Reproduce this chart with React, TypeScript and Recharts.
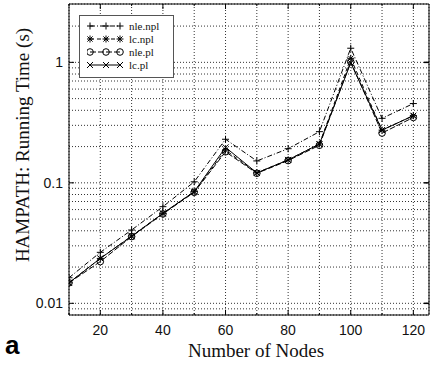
import React from 'react';
import { LineChart, Line, XAxis, YAxis, CartesianGrid, Legend } from 'recharts';

// nodes on the x axis
const nodes = [10, 20, 30, 40, 50, 60, 70, 80, 90, 100, 110, 120];

// running times (s) per variant
const nleNpl = [0.0163, 0.0265, 0.0406, 0.0634, 0.102, 0.23, 0.152, 0.192, 0.266, 1.31, 0.343, 0.455];
const lcNpl = [0.0148, 0.0236, 0.0362, 0.0558, 0.0845, 0.187, 0.121, 0.155, 0.21, 1.08, 0.274, 0.361];
const nlePl = [0.0148, 0.0222, 0.0358, 0.0552, 0.0834, 0.181, 0.12, 0.153, 0.205, 1.01, 0.259, 0.349];
const lcPl = [0.0148, 0.0236, 0.036, 0.0558, 0.0845, 0.197, 0.121, 0.155, 0.21, 0.99, 0.274, 0.361];

const seriesNames = ['nle.npl', 'lc.npl', 'nle.pl', 'lc.pl'];
const seriesKeys = ['nleNpl', 'lcNpl', 'nlePl', 'lcPl'];
const seriesDash = ['5 2 1 2', '4 3', '6 2', undefined];
const seriesMarker = ['plus', 'star', 'circle', 'cross'];

const xTicks = [10, 20, 30, 40, 50, 60, 70, 80, 90, 100, 110, 120];
const yTicks = [
  0.008, 0.009, 0.01, 0.02, 0.03, 0.04, 0.05, 0.06, 0.07, 0.08, 0.09,
  0.1, 0.2, 0.3, 0.4, 0.5, 0.6, 0.7, 0.8, 0.9, 1, 2,
];
const yLabels = [0.01, 0.1, 1];

const data = nodes.map((n, i) => ({
  n,
  nleNpl: nleNpl[i],
  lcNpl: lcNpl[i],
  nlePl: nlePl[i],
  lcPl: lcPl[i],
}));

const W = 430;
const H = 366;
const tickFont = '"Liberation Sans", Arial, sans-serif';
const serif = '"Liberation Serif", "Times New Roman", serif';

const isDecade = (v: number) => yLabels.some((d) => Math.abs(d - v) < 1e-9);

function Marker({ type, cx, cy }: { type: string; cx: number; cy: number }) {
  const s = 3.5;
  if (type === 'plus') {
    return (
      <g stroke="#000" strokeWidth={1}>
        <line x1={cx - s} y1={cy} x2={cx + s} y2={cy} />
        <line x1={cx} y1={cy - s} x2={cx} y2={cy + s} />
      </g>
    );
  }
  if (type === 'star') {
    const d = 2.6;
    return (
      <g stroke="#000" strokeWidth={1}>
        <line x1={cx - s} y1={cy} x2={cx + s} y2={cy} />
        <line x1={cx} y1={cy - s} x2={cx} y2={cy + s} />
        <line x1={cx - d} y1={cy - d} x2={cx + d} y2={cy + d} />
        <line x1={cx - d} y1={cy + d} x2={cx + d} y2={cy - d} />
      </g>
    );
  }
  if (type === 'circle') {
    return <circle cx={cx} cy={cy} r={3.3} fill="none" stroke="#000" strokeWidth={1} />;
  }
  const d = 3;
  return (
    <g stroke="#000" strokeWidth={1}>
      <line x1={cx - d} y1={cy - d} x2={cx + d} y2={cy + d} />
      <line x1={cx - d} y1={cy + d} x2={cx + d} y2={cy - d} />
    </g>
  );
}

const makeDot = (type: string) => (props: any) => {
  const { cx, cy, index } = props;
  if (cx == null || cy == null) return <g key={`d-${type}-${index}`} />;
  return (
    <g key={`d-${type}-${index}`}>
      <Marker type={type} cx={cx} cy={cy} />
    </g>
  );
};

const LeftTick = (props: any) => {
  const { x, y, payload } = props;
  const v = payload.value;
  const major = isDecade(v);
  const edge = x + 6;
  return (
    <g>
      {major && <line x1={edge} y1={y} x2={edge + 5} y2={y} stroke="#000" />}
      {major && (
        <text x={x} y={y} dy="0.355em" textAnchor="end" fontFamily={tickFont} fontSize={14} fill="#111">
          {v}
        </text>
      )}
    </g>
  );
};

const RightTick = (props: any) => {
  const { x, y, payload } = props;
  if (!isDecade(payload.value)) return <g />;
  return <line x1={x} y1={y} x2={x - 5} y2={y} stroke="#000" strokeWidth={1.5} />;
};

const BottomTick = (props: any) => {
  const { x, y, payload } = props;
  const v = payload.value;
  const major = v % 20 === 0;
  const edge = y - 10;
  return (
    <g>
      <line x1={x} y1={edge} x2={x} y2={edge - (major ? 5 : 2)} stroke="#000" />
      {major && (
        <text x={x} y={y} dy="0.71em" textAnchor="middle" fontFamily={tickFont} fontSize={14} fill="#111">
          {v}
        </text>
      )}
    </g>
  );
};

const TopTick = (props: any) => {
  const { x, y, payload } = props;
  const major = payload.value % 20 === 0;
  return <line x1={x} y1={y} x2={x} y2={y + (major ? 5 : 2)} stroke="#000" />;
};

const LegendBox = () => (
  <div
    style={{
      width: 93,
      height: 58,
      border: '1.5px solid #555',
      background: '#fff',
      boxSizing: 'content-box',
      paddingTop: 3,
    }}
  >
    {seriesNames.map((name, i) => (
      <div key={name} style={{ display: 'flex', alignItems: 'center', height: 13, marginLeft: 7 }}>
        <svg width={38} height={12} style={{ display: 'block' }}>
          <line
            x1={3}
            y1={6}
            x2={33}
            y2={6}
            stroke="#000"
            strokeWidth={1}
            strokeDasharray={seriesDash[i]}
          />
          <Marker type={seriesMarker[i]} cx={3} cy={6} />
          <Marker type={seriesMarker[i]} cx={19} cy={6} />
          <Marker type={seriesMarker[i]} cx={33} cy={6} />
        </svg>
        <span style={{ fontFamily: serif, fontSize: 11, marginLeft: 4, color: '#111' }}>{name}</span>
      </div>
    ))}
  </div>
);

export default function App() {
  return (
    <div style={{ position: 'relative', width: W, height: H, background: '#fff' }}>
      <style>{'body{margin:0}'}</style>
      <LineChart width={W} height={H} data={data} margin={{ top: 4, right: 1, bottom: 0, left: 0 }}>
        <CartesianGrid stroke="#333" strokeDasharray="1 2" strokeWidth={1} />
        <XAxis
          dataKey="n"
          type="number"
          domain={[10, 125]}
          ticks={xTicks}
          interval={0}
          allowDataOverflow
          height={51}
          tickSize={0}
          tickMargin={10}
          tickLine={false}
          axisLine={{ stroke: '#000' }}
          tick={<BottomTick />}
        />
        <XAxis
          xAxisId="top"
          dataKey="n"
          type="number"
          orientation="top"
          mirror
          domain={[10, 125]}
          ticks={xTicks}
          interval={0}
          allowDataOverflow
          height={10}
          tickSize={0}
          tickMargin={0}
          tickLine={false}
          axisLine={{ stroke: '#000' }}
          tick={<TopTick />}
        />
        <YAxis
          scale="log"
          type="number"
          domain={[0.008, 3.05]}
          ticks={yTicks}
          interval={0}
          allowDataOverflow
          width={69}
          tickSize={0}
          tickMargin={6}
          tickLine={false}
          axisLine={{ stroke: '#000' }}
          tick={<LeftTick />}
        />
        <YAxis
          yAxisId="right"
          orientation="right"
          mirror
          scale="log"
          type="number"
          domain={[0.008, 3.05]}
          ticks={yTicks}
          interval={0}
          allowDataOverflow
          width={10}
          tickSize={0}
          tickMargin={0}
          tickLine={false}
          axisLine={{ stroke: '#000' }}
          tick={<RightTick />}
        />
        {seriesKeys.map((k, i) => (
          <Line
            key={k}
            dataKey={k}
            name={seriesNames[i]}
            stroke="#000"
            strokeWidth={1}
            strokeDasharray={seriesDash[i]}
            dot={makeDot(seriesMarker[i])}
            activeDot={false}
            isAnimationActive={false}
          />
        ))}
        <Legend
          layout="horizontal"
          verticalAlign="middle"
          align="center"
          wrapperStyle={{ position: 'absolute', left: 79, top: 15, width: 'auto' }}
          content={() => <LegendBox />}
        />
      </LineChart>
      <svg
        width={W}
        height={H}
        style={{ position: 'absolute', left: 0, top: 0, pointerEvents: 'none' }}
      >
        <text
          x={29}
          y={145}
          transform="rotate(-90 29 145)"
          textAnchor="middle"
          fontFamily={serif}
          fontSize={19}
          fill="#111"
        >
          HAMPATH: Running Time (s)
        </text>
        <text x={256} y={357} textAnchor="middle" fontFamily={serif} fontSize={19} fill="#111">
          Number of Nodes
        </text>
        <text x={5} y={354} fontFamily={tickFont} fontWeight="bold" fontSize={26} fill="#000">
          a
        </text>
      </svg>
    </div>
  );
}
